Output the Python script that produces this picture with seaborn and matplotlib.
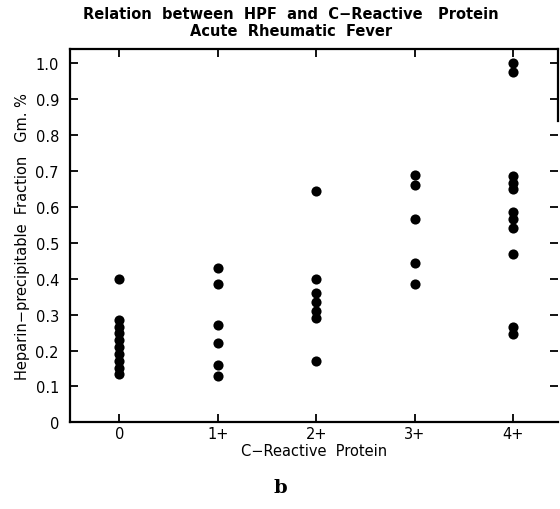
import pandas as pd
import seaborn as sns
import matplotlib.pyplot as plt

# CRP grades and HPF values
categories = ['0', '1+', '2+', '3+', '4+']
hpf_0 = [0.40, 0.285, 0.265, 0.25, 0.23, 0.21, 0.19, 0.17, 0.15, 0.135]
hpf_1 = [0.43, 0.385, 0.27, 0.22, 0.16, 0.13]
hpf_2 = [0.645, 0.40, 0.36, 0.335, 0.31, 0.29, 0.17]
hpf_3 = [0.69, 0.66, 0.565, 0.445, 0.385]
hpf_4 = [1.00, 0.975, 0.685, 0.668, 0.65, 0.585, 0.565, 0.54, 0.47, 0.265, 0.245]
y_ticks = [0, 0.1, 0.2, 0.3, 0.4, 0.5, 0.6, 0.7, 0.8, 0.9, 1.0]
y_labels = ['0', '0.1', '0.2', '0.3', '0.4', '0.5', '0.6', '0.7', '0.8', '0.9', '1.0']

rows = []
for cat, vals in zip(categories, [hpf_0, hpf_1, hpf_2, hpf_3, hpf_4]):
    for v in vals:
        rows.append({'crp': cat, 'hpf': v})
data = pd.DataFrame(rows)

sns.set_style('ticks')
plt.rcParams['font.family'] = ['DejaVu Sans']
plt.rcParams['text.color'] = 'black'
plt.rcParams['axes.labelcolor'] = 'black'
plt.rcParams['xtick.color'] = 'black'
plt.rcParams['ytick.color'] = 'black'

fig = plt.figure(figsize=(5.6, 5.1), dpi=100)
ax = fig.add_axes([0.125, 0.17, 0.871, 0.732])

sns.stripplot(data=data, x='crp', y='hpf', order=categories, jitter=False,
              color='black', size=7.3, linewidth=0, ax=ax)

ax.set_xlim(-0.5, 4.45)
ax.set_ylim(0, 1.04)
ax.set_yticks(y_ticks)
ax.set_yticklabels(y_labels, fontsize=10.5)
ax.set_xticks(range(len(categories)))
ax.set_xticklabels(categories, fontsize=10.5)

for side in ['left', 'right', 'top', 'bottom']:
    ax.spines[side].set_visible(True)
    ax.spines[side].set_linewidth(1.6)
    ax.spines[side].set_color('black')
ax.spines['right'].set_bounds(0.84, 1.04)

ax.tick_params(axis='both', direction='in', length=6, width=1.3, colors='black')
ax.tick_params(axis='x', top=True, pad=3)
ax.tick_params(axis='y', right=True, pad=8)

ax.set_xlabel('C\u2212Reactive  Protein', fontsize=10.5, labelpad=1)
ax.set_ylabel('Heparin\u2212precipitable  Fraction   Gm. %', fontsize=10.5, labelpad=4)

fig.text(0.52, 0.972, 'Relation  between  HPF  and  C\u2212Reactive   Protein',
         ha='center', va='center', fontsize=10.5, fontweight='bold')
fig.text(0.52, 0.938, 'Acute  Rheumatic  Fever',
         ha='center', va='center', fontsize=10.5, fontweight='bold')
fig.text(0.5, 0.043, 'b', ha='center', va='center', fontsize=14,
         fontweight='bold', family='DejaVu Serif')

plt.savefig('out.png', dpi=100)
plt.close()
